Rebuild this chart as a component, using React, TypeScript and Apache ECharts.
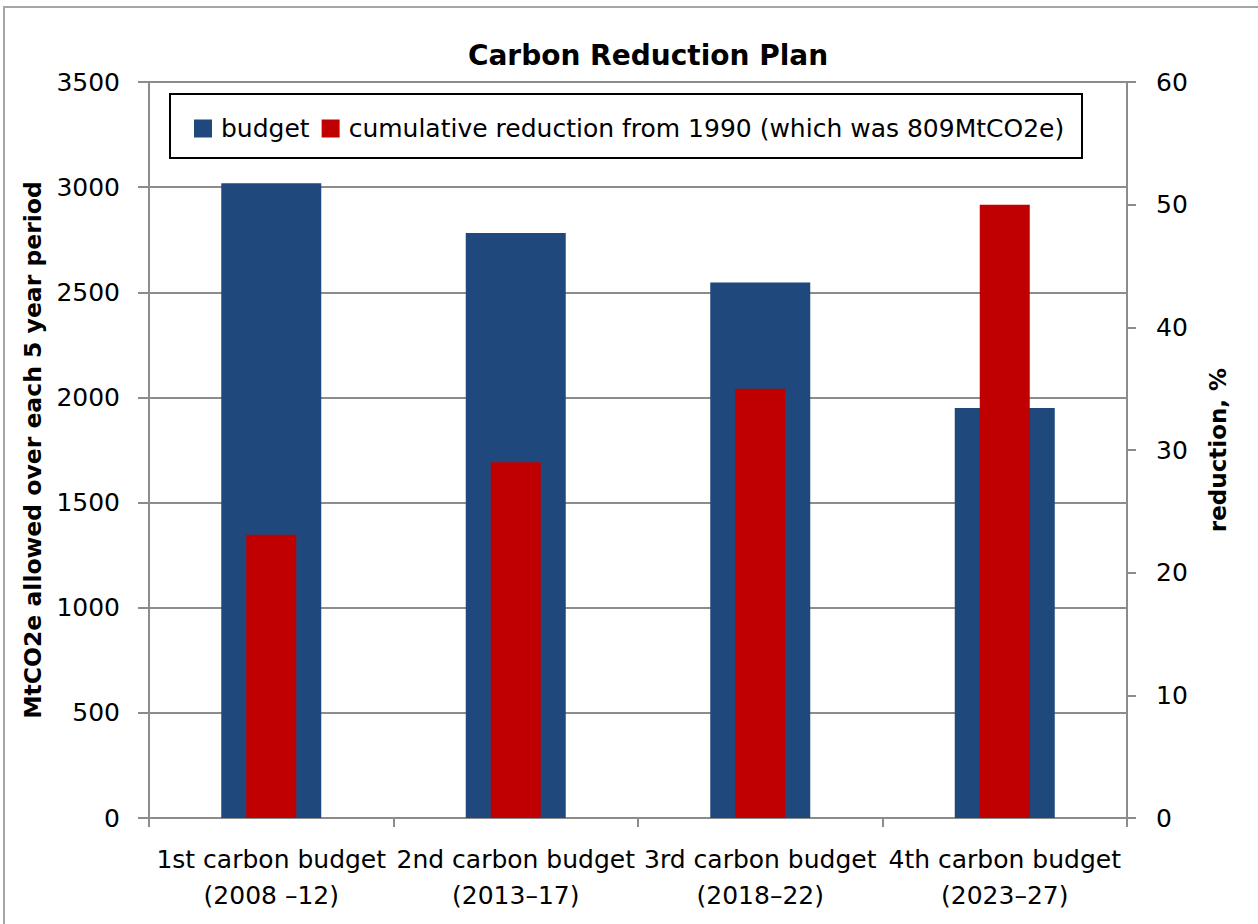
import React, { useEffect, useRef } from "react";
import * as echarts from "echarts";

const categories = [
  "1st carbon budget\n(2008 –12)",
  "2nd carbon budget\n(2013–17)",
  "3rd carbon budget\n(2018–22)",
  "4th carbon budget\n(2023–27)",
];
const budget = [3018, 2782, 2546, 1950];
const reduction = [23.1, 29, 35, 50];
const leftTicks = { min: 0, max: 3500, interval: 500 };
const rightTicks = { min: 0, max: 60, interval: 10 };

const FONT = "'DejaVu Sans', sans-serif";
const GRAY = "#8c8c8c";

export default function App() {
  const ref = useRef<HTMLDivElement>(null);
  useEffect(() => {
    if (!ref.current) return;
    const chart = echarts.init(ref.current, null, { renderer: "svg" });
    chart.setOption({
      animation: false,
      backgroundColor: "#ffffff",
      textStyle: { fontFamily: FONT },
      title: {
        text: "Carbon Reduction Plan",
        left: 643,
        textAlign: "center",
        top: 36,
        textStyle: { fontFamily: FONT, fontSize: 28, fontWeight: "bold", color: "#000" },
      },
      graphic: [
        {
          type: "rect",
          shape: { x: 4, y: 7, width: 1400, height: 1000 },
          style: { fill: "none", stroke: "#a6a6a6", lineWidth: 2 },
          silent: true,
          z: 0,
        },
        {
          type: "rect",
          shape: { x: 170, y: 94, width: 912, height: 64 },
          style: { fill: "#fff", stroke: "#000", lineWidth: 2 },
          z: 10,
        },
      ],
      legend: {
        left: 189,
        top: 111,
        z: 20,
        icon: "rect",
        itemWidth: 18,
        itemHeight: 18,
        itemGap: 12,
        textStyle: { fontFamily: FONT, fontSize: 25, color: "#000", padding: [0, 0, 0, 4] },
        data: ["budget", "cumulative reduction from 1990 (which was 809MtCO2e)"],
      },
      grid: { left: 149, right: 131, top: 82, bottom: 106 },
      xAxis: [
        {
          type: "category",
          data: categories,
          axisLine: { lineStyle: { color: GRAY, width: 2 } },
          axisTick: { show: true, length: 9, lineStyle: { color: GRAY, width: 2 } },
          axisLabel: {
            color: "#000",
            fontFamily: FONT,
            fontSize: 25,
            lineHeight: 36,
            margin: 23,
            interval: 0,
          },
        },
        { type: "category", data: categories, show: false },
      ],
      yAxis: [
        {
          type: "value",
          ...leftTicks,
          name: "MtCO2e allowed over each 5 year period",
          nameLocation: "middle",
          nameRotate: 90,
          nameGap: 103,
          nameTextStyle: { fontFamily: FONT, fontSize: 23.5, fontWeight: "bold", color: "#000" },
          axisLine: { show: true, lineStyle: { color: GRAY, width: 2 } },
          axisTick: { show: true, length: 11, lineStyle: { color: GRAY, width: 2 } },
          axisLabel: {
            color: "#000",
            fontFamily: FONT,
            fontSize: 25,
            margin: 29,
            formatter: (v: number) => String(v),
          },
          splitLine: { show: true, lineStyle: { color: GRAY, width: 2 } },
        },
        {
          type: "value",
          ...rightTicks,
          position: "right",
          name: "reduction, %",
          nameLocation: "middle",
          nameRotate: 90,
          nameGap: 79,
          nameTextStyle: { fontFamily: FONT, fontSize: 23, fontWeight: "bold", color: "#000" },
          axisLine: { show: true, lineStyle: { color: GRAY, width: 2 } },
          axisTick: { show: true, length: 9, lineStyle: { color: GRAY, width: 2 } },
          axisLabel: { color: "#000", fontFamily: FONT, fontSize: 25, margin: 29 },
          splitLine: { show: false },
        },
      ],
      series: [
        {
          name: "budget",
          type: "bar",
          data: budget,
          xAxisIndex: 0,
          yAxisIndex: 0,
          barWidth: 100,
          itemStyle: { color: "#1f497d" },
          z: 2,
        },
        {
          name: "cumulative reduction from 1990 (which was 809MtCO2e)",
          type: "bar",
          data: reduction,
          xAxisIndex: 1,
          yAxisIndex: 1,
          barWidth: 50,
          itemStyle: { color: "#c00000" },
          z: 3,
        },
      ],
    });
    return () => chart.dispose();
  }, []);
  return (
    <div
      ref={ref}
      style={{ position: "fixed", left: 0, top: 0, width: 1258, height: 924 }}
    />
  );
}
